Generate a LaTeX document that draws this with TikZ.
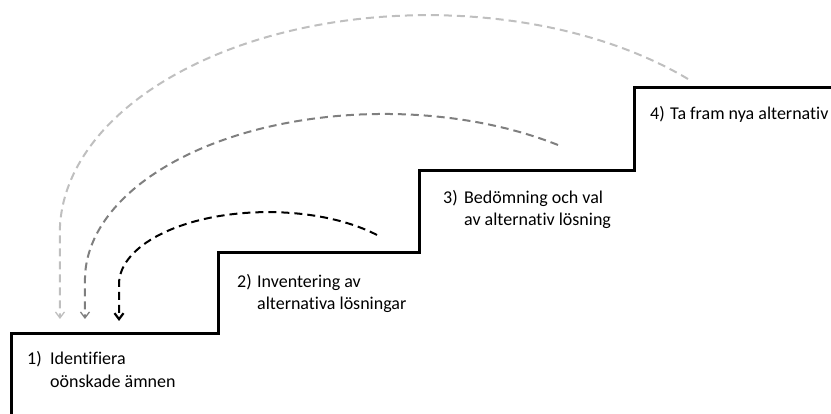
\documentclass[tikz,border=0pt]{standalone}
\usepackage{fontspec}
\setmainfont{Carlito}[Ligatures=NoCommon]
\usetikzlibrary{arrows.meta}
\definecolor{loopLight}{HTML}{BFBFBF}
\definecolor{loopMid}{HTML}{7F7F7F}
\begin{document}
\begin{tikzpicture}[x=1pt,y=-1pt,
  stairline/.style={line width=3pt,line join=miter},
  loopline/.style={line width=2pt,dash pattern=on 8pt off 5pt,
    -{Straight Barb[length=6pt,width=9pt,line width=1.3pt]}},
  boldtip/.style={-{Straight Barb[length=6pt,width=9pt,line width=2.2pt]}},
  steptext/.style={anchor=base west,inner sep=0pt,font=\fontsize{18}{22}\selectfont}]
\useasboundingbox (0,0) rectangle (831,414);

% staircase corners
\coordinate (s0) at (11.5,418);
\coordinate (s1) at (11.5,334);
\coordinate (s2) at (218,334);
\coordinate (s3) at (218,253);
\coordinate (s4) at (419,253);
\coordinate (s5) at (419,171);
\coordinate (s6) at (634,171);
\coordinate (s7) at (634,88);
\coordinate (s8) at (833,88);
\draw[stairline] (s0) -- (s1) -- (s2) -- (s3) -- (s4) -- (s5) -- (s6) -- (s7) -- (s8);

% step labels
\node[steptext] (n1) at (27,365) {1)};
\node[steptext] (t1a) at (50,365) {Identifiera};
\node[steptext] (t1b) at (50,388) {oönskade ämnen};
\node[steptext] (n2) at (237,288) {2)};
\node[steptext] (t2a) at (257,288) {Inventering av};
\node[steptext] (t2b) at (257,310) {alternativa lösningar};
\node[steptext] (n3) at (443,204) {3)};
\node[steptext] (t3a) at (464,204) {Bedömning och val};
\node[steptext] (t3b) at (464,226) {av alternativ lösning};
\node[steptext] (n4) at (650,120) {4)};
\node[steptext] (t4a) at (670,120) {Ta fram nya alternativ};

% feedback loops back to step 1
\coordinate (a4) at (688,79);
\coordinate (e4) at (60,319);
\draw[loopline,loopLight] (a4) arc[start angle=-45,end angle=-180,x radius=368,y radius=218] -- (e4);

\coordinate (a3) at (558,145);
\coordinate (e3) at (85,319);
\draw[loopline,loopMid] (a3) arc[start angle=-54.4,end angle=-180,x radius=299,y radius=166] -- (e3);

\coordinate (a2) at (377,235);
\coordinate (e2) at (119,321);
\draw[loopline,boldtip,black] (a2) arc[start angle=-43,end angle=-180,x radius=149,y radius=72] -- (e2);
\end{tikzpicture}
\end{document}
